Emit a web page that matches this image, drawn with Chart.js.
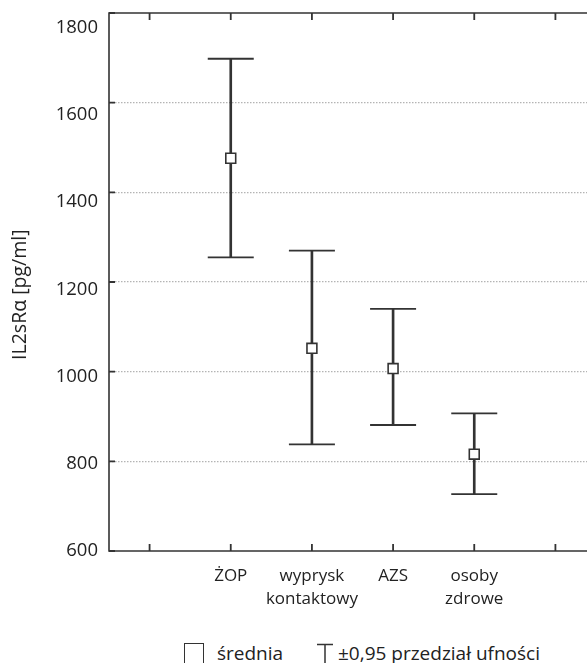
<!DOCTYPE html>
<html><head><meta charset="utf-8">
<script src="https://cdn.jsdelivr.net/npm/chart.js@4"></script>
<style>
html,body{margin:0;padding:0;background:#fff;overflow:hidden;}
#wrap{position:relative;width:587px;height:663px;overflow:hidden;background:#fff;}
canvas{position:absolute;left:0;top:0;}
.leg{position:absolute;top:643px;font-family:'Open Sans',sans-serif;font-size:19px;line-height:20px;color:#222;white-space:nowrap;}
</style></head>
<body><div id="wrap"><canvas id="c" width="600" height="615" style="width:600px;height:615px"></canvas>
<div class="leg" style="left:184px;width:20px;height:22px;border:1.5px solid #333;box-sizing:border-box"></div>
<div class="leg" id="l1" style="left:217px"></div>
<svg class="leg" style="left:317px;width:16px;height:20px" width="16" height="20"><path d="M0 1.5H16M8 1.5V20" stroke="#333" stroke-width="1.5" fill="none"/></svg>
<div class="leg" id="l2" style="left:338px"></div>
</div>
<script>
const categories = ['ŻOP', 'wyprysk kontaktowy', 'AZS', 'osoby zdrowe'];
const means = [1476, 1052, 1007, 816];
const upper = [1698, 1270, 1140, 907];
const lower = [1255, 838, 881, 727];
const yTickValues = [600, 800, 1000, 1200, 1400, 1600, 1800];
const yTitle = 'IL2sRα [pg/ml]';
const legendLabels = ['średnia', '±0,95 przedział ufności'];

document.getElementById('l1').textContent = legendLabels[0];
document.getElementById('l2').textContent = legendLabels[1];

const labels = ['', ...categories.map(c => c.split(' ')), ''];
const pad = arr => [null, ...arr, null];
const ink = '#333';

const frame = {
  id: 'frame',
  beforeDatasetsDraw(chart) {
    const {ctx, chartArea: a, scales: {x, y}} = chart;
    ctx.save();
    ctx.strokeStyle = ink; ctx.lineWidth = 1.6;
    ctx.beginPath();
    ctx.moveTo(a.right, a.top); ctx.lineTo(a.left, a.top); ctx.lineTo(a.left, a.bottom); ctx.lineTo(a.right, a.bottom);
    ctx.stroke();
    ctx.beginPath();
    ctx.rect(a.left - 2, 0, 575 - a.left, chart.height);
    ctx.clip();
    ctx.lineWidth = 1.8;
    ctx.beginPath();
    x.ticks.forEach((t, i) => {
      const px = x.getPixelForTick(i);
      ctx.moveTo(px, a.top); ctx.lineTo(px, a.top + 7);
      ctx.moveTo(px, a.bottom); ctx.lineTo(px, a.bottom - 7);
    });
    y.ticks.forEach(t => {
      const py = y.getPixelForValue(t.value);
      ctx.moveTo(a.left, py); ctx.lineTo(a.left + 6, py);
    });
    ctx.stroke();
    ctx.restore();
  }
};

new Chart(document.getElementById('c'), {
  type: 'bar',
  data: {
    labels,
    datasets: [
      { type: 'bar', label: 'przedział', data: pad(lower.map((l, i) => [l, upper[i]])), backgroundColor: ink, barThickness: 2, order: 3 },
      { type: 'line', label: 'górny', data: pad(upper), showLine: false, pointStyle: 'line', pointRadius: 23, borderColor: ink, borderWidth: 1.8, order: 2 },
      { type: 'line', label: 'dolny', data: pad(lower), showLine: false, pointStyle: 'line', pointRadius: 23, borderColor: ink, borderWidth: 1.8, order: 2 },
      { type: 'line', label: 'średnia', data: pad(means), showLine: false, pointStyle: 'rect', pointRadius: 7, backgroundColor: '#fff', borderColor: ink, borderWidth: 1.6, order: 1 }
    ]
  },
  options: {
    responsive: false,
    animation: false,
    events: [],
    layout: { autoPadding: false, padding: { top: 13, right: 4, left: 0, bottom: 0 } },
    plugins: { legend: { display: false }, tooltip: { enabled: false } },
    scales: {
      x: {
        offset: true,
        grid: { display: false, drawTicks: false },
        border: { display: false },
        ticks: { autoSkip: false, maxRotation: 0, padding: 14, color: '#222', font: { family: 'Open Sans', size: 17, lineHeight: 1.35 } },
        afterFit(s) { s.height = 615 - 551; s.paddingLeft = 0; s.paddingRight = 0; }
      },
      y: {
        position: 'left', weight: 0,
        min: 600, max: 1800,
        ticks: { display: false, stepSize: 200 },
        grid: { drawTicks: false, color: c => (c.tick && (c.tick.value === 600 || c.tick.value === 1800)) ? 'rgba(0,0,0,0)' : '#b4b4b4', lineWidth: 1.2 },
        border: { display: false, dash: [1.5, 1.5] },
        afterFit(s) { s.paddingTop = 0; s.paddingBottom = 0; }
      },
      yl: {
        position: 'left', weight: 1,
        min: 600, max: 1834,
        afterBuildTicks(s) { s.ticks = yTickValues.map(v => ({ value: v })); },
        grid: { display: false, drawTicks: false },
        border: { display: false },
        ticks: { padding: 11, color: '#222', font: { family: 'Open Sans', size: 18.5 }, callback: v => String(v) },
        title: { display: true, text: yTitle + '     ', color: '#222', font: { family: 'Open Sans', size: 19.5 }, padding: { top: 8.5, bottom: 0 } },
        afterFit(s) { s.width = 109; s.paddingTop = 0; s.paddingBottom = 0; }
      }
    }
  },
  plugins: [frame]
});
</script>
</body></html>
